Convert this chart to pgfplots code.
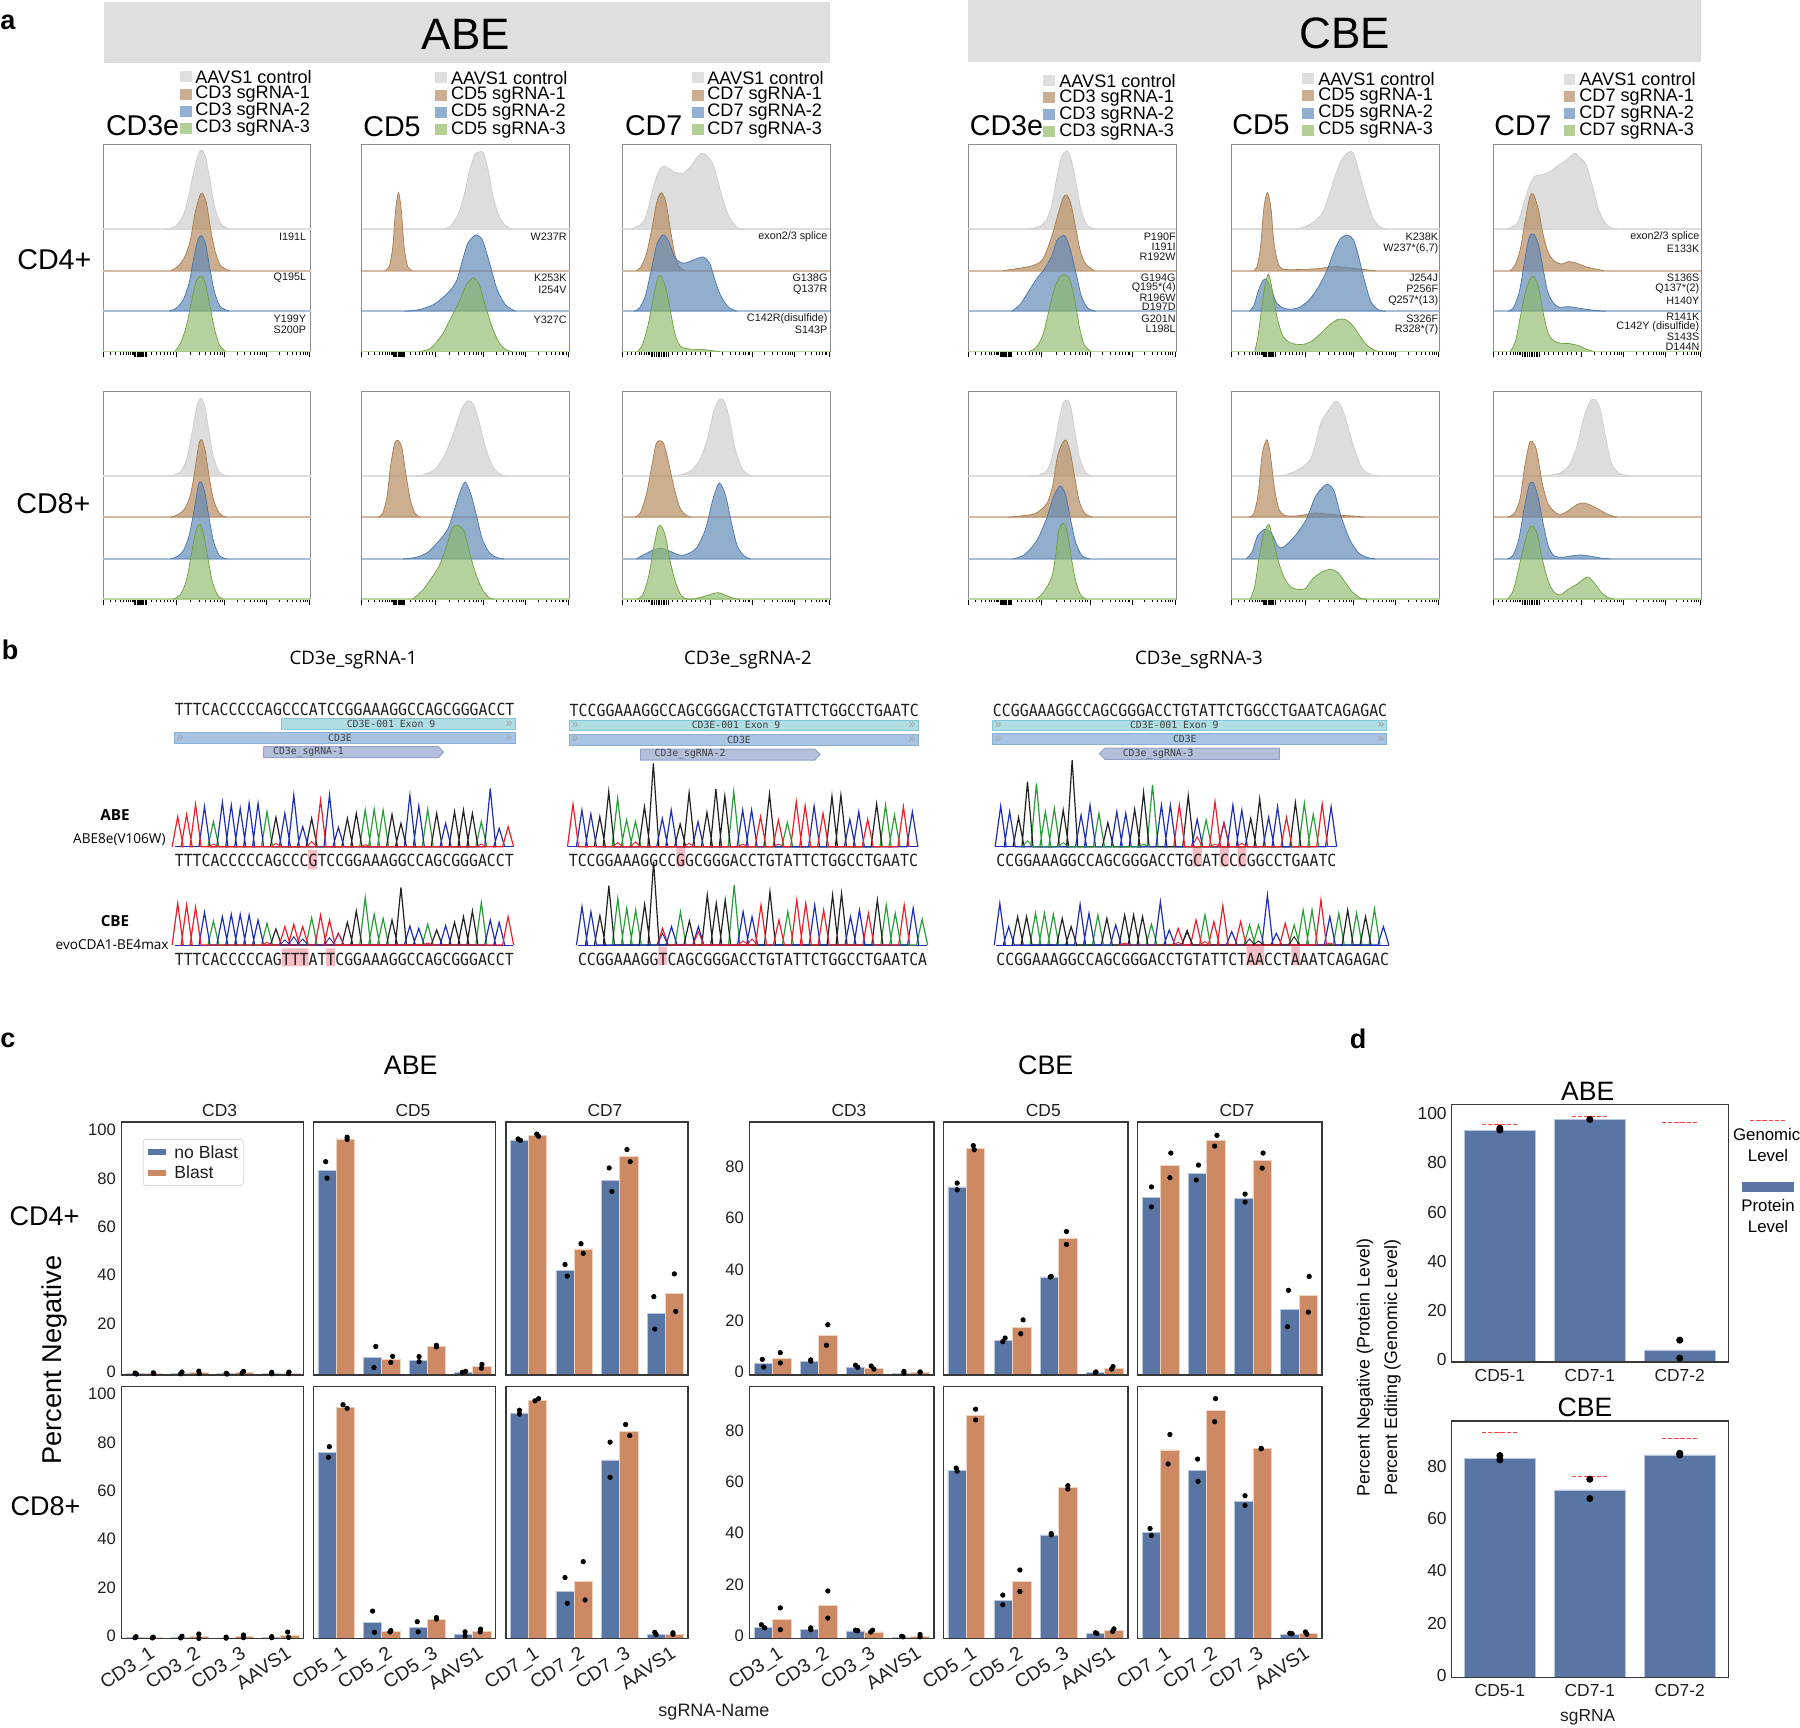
\documentclass[border=0pt]{standalone}
\usepackage{fontspec}
\setmainfont{Liberation Sans}
\newfontfamily\mono{DejaVu Sans Mono}
\newfontfamily\ofont{Open Sans}
\usepackage{graphicx}
\usepackage{pgfplots}
\pgfplotsset{compat=1.18}
\definecolor{hdr}{HTML}{E0DEDF}
\definecolor{cb}{HTML}{5975A4}
\definecolor{cbl}{HTML}{B9C5DB}
\definecolor{co}{HTML}{CC8963}
\definecolor{col}{HTML}{EFD3C2}
\definecolor{fg}{HTML}{D8D9D8}
\definecolor{lg}{HTML}{CDCDCD}
\definecolor{fbr}{HTML}{B88F66}
\definecolor{lbr}{HTML}{A97C50}
\definecolor{fbl}{HTML}{5F87B5}
\definecolor{lbl}{HTML}{4A75A8}
\definecolor{fgr}{HTML}{8CB86A}
\definecolor{lgr}{HTML}{6FA040}
\definecolor{bsg}{HTML}{DDDDDD}
\definecolor{bsb}{HTML}{D4BAA2}
\definecolor{bsl}{HTML}{A9BFD9}
\definecolor{bsn}{HTML}{BCD6A0}
\definecolor{swg}{HTML}{DFDFDF}
\definecolor{swb}{HTML}{CBAE92}
\definecolor{swl}{HTML}{93AFCF}
\definecolor{swn}{HTML}{B3CF96}
\definecolor{trA}{HTML}{2A9D3A}
\definecolor{trC}{HTML}{1F2FB0}
\definecolor{trG}{HTML}{222222}
\definecolor{trT}{HTML}{E8202A}
\definecolor{pink}{HTML}{F4BCC3}
\definecolor{fex}{HTML}{AEDDE4}
\definecolor{bex}{HTML}{86C8D2}
\definecolor{fcd}{HTML}{A7C5E3}
\definecolor{bcd}{HTML}{8CB0D4}
\definecolor{far}{HTML}{B4BFDC}
\definecolor{bar2}{HTML}{97A3C6}
\pgfplotsset{
 flowbase/.style={scale only axis,anchor=north west,width=103.9pt,height=103.65pt,
  xmin=0,xmax=362,ymin=0,ymax=622,ytick=\empty,xticklabels={},
  axis line style={draw=black!45,line width=.5pt},
  tick align=outside,xtick pos=bottom,major tick length=2.6pt,minor tick length=1.5pt,
  tick style={draw=black,line width=.35pt},clip=true},
 flowA/.style={flowbase,
  xtick={0,128,212,285,360,55,57,59,61,63,65,67,69,71,73,75},
  minor xtick={12,22,30,36,41,45,48,51,53,85,93,100,106,112,118,123,153,168,178,187,194,199,204,208,234,247,256,263,269,274,278,281,307,321,330,337,344,349,352,356}},
 flowB/.style={flowbase,
  xtick={0,153,226,300,360,50,53,56,59,62,65,68,71,74,77,80},
  minor xtick={8,16,23,29,34,38,42,45,47,88,96,104,112,120,128,136,144,175,188,197,204,210,215,219,222,248,261,270,278,284,289,293,296,318,330,338,344,349,353,356}},
 cbase/.style={scale only axis,anchor=north west,xmin=-.5,xmax=3.5,ymin=0,axis on top,
  axis line style={draw=black!78,line width=.75pt},
  major tick length=0pt,minor tick length=0pt,xtick pos=bottom,ytick pos=left,
  /pgf/number format/assume math mode=true,
  tick label style={font=\fontsize{8.3}{9}\selectfont,text=black!88},
  yticklabel style={yshift=1.5pt,xshift=.8pt},
  xticklabel style={font=\fontsize{9.6}{10}\selectfont,rotate=33,anchor=north east,inner sep=0pt,xshift=0pt,yshift=-4pt},
  clip=false},
 dbase/.style={scale only axis,anchor=north west,width=138.5pt,xmin=-.54,xmax=2.54,ymin=0,axis on top,
  axis line style={draw=black!78,line width=.75pt},
  major tick length=0pt,minor tick length=0pt,xtick pos=bottom,ytick pos=left,
  /pgf/number format/assume math mode=true,
  xtick={0,1,2},xticklabels={CD5-1,CD7-1,CD7-2},
  tick label style={font=\fontsize{8.7}{9}\selectfont,text=black!88},
  yticklabel style={yshift=1pt,xshift=1.2pt},clip=false},
}
\tikzset{
 f/.style={font=\fontsize{#1}{#1}\selectfont,inner sep=0pt},
 o/.style={font=\ofont\fontsize{#1}{#1}\selectfont,inner sep=0pt},
 mu/.style={font=\fontsize{5.4}{5.4}\selectfont,inner sep=0pt,anchor=east,text=black!90},
 m/.style={font=\mono\fontsize{4.9}{4.9}\selectfont,inner sep=0pt,text=black!75},
}
\newcommand\fc[6]{% fill, line, base, opacity, coords, baseline colour
 \addplot[draw=#6,line width=1pt,forget plot] coordinates {(0,#3)(362,#3)};
 \addplot[smooth,tension=.45,fill=#1,fill opacity=#4,draw=#2,line width=.35pt,
   y filter/.code={\pgfmathparse{##1+#3}\pgfmathresult}] coordinates {#5};}
\newcommand\flow[7]{%
 \begin{axis}[#3,at={(#1*0.5pt,-#2*0.5pt)}]
 \fc{fg}{lg}{\bG}{.9}{#4}{bsg}
 \fc{fbr}{lbr}{\bB}{.72}{#5}{bsb}
 \fc{fbl}{lbl}{\bL}{.68}{#6}{bsl}
 \fc{fgr}{lgr}{0}{.65}{#7}{bsn}
 \end{axis}}
\newcommand\cpanel[9]{%
 \begin{axis}[cbase,at={(#1*0.5pt,-#2*0.5pt)},width=#3,height=#4,ymax=#5,#6]
 \addplot[ybar,bar width=.4,bar shift=-.2,fill=cb,draw=cbl,line width=.35pt] coordinates {#7};
 \addplot[ybar,bar width=.4,bar shift=.2,fill=co,draw=col,line width=.35pt] coordinates {#8};
 \addplot[only marks,mark=*,mark size=1.1pt,black] coordinates {#9};
 \end{axis}}
\newcommand\chrom[4]{%
 \gdef\accA{}\gdef\accC{}\gdef\accG{}\gdef\accT{}%
 \foreach \L/\h [count=\i] in {#4}{%
  \pgfmathsetmacro\xc{#1+(\i-1)*#2}%
  \pgfmathsetmacro\xa{\xc-#2*.62}%
  \pgfmathsetmacro\xb{\xc+#2*.62}%
  \pgfmathsetmacro\yy{#3-\h/3}%
  \expandafter\xdef\csname acc\L\endcsname{\csname acc\L\endcsname (\xa,#3)(\xc,\yy)(\xb,#3)}}%
 \edef\tmp{\noexpand\addplot[trA,line width=.6pt] coordinates {\accA};}\tmp
 \edef\tmp{\noexpand\addplot[trG,line width=.6pt] coordinates {\accG};}\tmp
 \edef\tmp{\noexpand\addplot[trC,line width=.6pt] coordinates {\accC};}\tmp
 \edef\tmp{\noexpand\addplot[trT,line width=.6pt] coordinates {\accT};}\tmp
}
\newcommand\extra[5]{% x1,pitch,base,color,list i/h
 \gdef\accX{}%
 \foreach \k/\h in {#5}{%
  \pgfmathsetmacro\xc{#1+(\k-1)*#2}%
  \pgfmathsetmacro\xa{\xc-#2*.6}%
  \pgfmathsetmacro\xb{\xc+#2*.6}%
  \pgfmathsetmacro\yy{#3-\h/3}%
  \xdef\accX{\accX (\xa,#3)(\xc,\yy)(\xb,#3)}}%
 \edef\tmp{\noexpand\addplot[#4,line width=.45pt] coordinates {\accX};}\tmp
}
\newcommand\rct[5]{\addplot[fill=#1,draw=none] coordinates {(#2,#3)(#4,#3)(#4,#5)(#2,#5)(#2,#3)};}
\newcommand\feat[6]{\addplot[fill=#1,draw=#2,line width=.5pt] coordinates {(#3,#4)(#5,#4)(#5,#6)(#3,#6)(#3,#4)};}
\newcommand\leg[8]{%
 \fill[swg] (#1,#3-5.5) rectangle ++(11.5,11);
 \fill[swb] (#1,#4-5.5) rectangle ++(11.5,11);
 \fill[swl] (#1,#5-5.5) rectangle ++(11.5,11);
 \fill[swn] (#1,#6-5.5) rectangle ++(11.5,11);
 \node[f=9.05,anchor=west] at (#2,#3) {AAVS1 control};
 \node[f=9.05,anchor=west] at (#2,#4) {#7 sgRNA-1};
 \node[f=9.05,anchor=west] at (#2,#5) {#7 sgRNA-2};
 \node[f=9.05,anchor=west] at (#2,#6) {#7 sgRNA-3};}
\newcommand\sq[5]{\node[inner sep=0pt,anchor=west,text=black!88] at (#1,#3) {\resizebox{#4}{6.2pt}{\mono #5}};}
\begin{document}
\begin{tikzpicture}
\path[use as bounding box] (0pt,0pt) rectangle (900pt,-864pt);
\begin{scope}[x=.5pt,y=-.5pt]
\fill[hdr] (104,2) rectangle (830,63);
\fill[hdr] (968,0) rectangle (1701,62);
\end{scope}
% ===== panel a, CD4+
\def\bG{367}\def\bB{243}\def\bL{121}
\flow{103}{144.3}{flowA}
 {(110,0)(125,8)(138,35)(148,90)(157,165)(166,225)(172,238)(179,215)(186,150)(195,65)(205,18)(220,0)}
 {(118,0)(130,12)(142,40)(152,90)(160,170)(168,222)(173,232)(180,205)(187,130)(195,60)(205,15)(220,0)}
 {(115,0)(128,10)(140,35)(150,85)(158,160)(166,218)(172,226)(179,200)(186,130)(194,60)(204,15)(220,0)}
 {(125,0)(135,25)(145,75)(153,140)(162,210)(171,227)(178,205)(186,140)(194,70)(203,20)(214,0)}
\flow{361.7}{144.3}{flowA}
 {(140,0)(155,10)(168,45)(178,100)(187,170)(197,225)(205,232)(212,230)(220,180)(228,105)(238,45)(250,12)(262,0)}
 {(40,0)(48,12)(54,70)(59,180)(64,234)(69,180)(74,70)(80,12)(88,0)}
 {(75,0)(100,5)(125,20)(150,55)(165,90)(175,150)(185,205)(195,225)(200,229)(210,215)(222,150)(235,70)(250,20)(268,0)}
 {(100,0)(120,10)(140,50)(155,100)(170,150)(182,200)(190,215)(195,222)(205,200)(215,140)(228,70)(240,25)(252,5)(262,0)}
\flow{622.3}{144.3}{flowB}
 {(15,0)(30,12)(41,38)(56,138)(66,183)(76,188)(90,172)(106,168)(120,190)(130,215)(138,228)(148,220)(158,195)(166,148)(176,85)(186,38)(201,3)(210,0)}
 {(24,0)(32,10)(42,50)(52,130)(60,205)(68,234)(76,205)(84,120)(92,45)(100,10)(110,0)}
 {(20,0)(30,10)(40,45)(50,120)(60,200)(68,225)(73,229)(82,205)(92,160)(106,144)(118,150)(130,158)(141,163)(152,145)(162,90)(172,45)(185,12)(200,0)}
 {(26,0)(35,20)(45,80)(55,170)(62,222)(67,227)(76,190)(85,110)(93,45)(102,15)(115,8)(135,7)(155,3)(170,0)}
\flow{968.3}{144.3}{flowA}
 {(100,0)(120,6)(135,25)(145,70)(153,145)(162,215)(172,235)(180,205)(188,135)(197,55)(207,12)(222,0)}
 {(60,0)(85,6)(110,14)(128,30)(140,75)(150,130)(158,180)(165,218)(171,227)(178,205)(187,130)(195,60)(205,18)(220,0)}
 {(75,0)(90,20)(105,60)(120,100)(132,125)(145,165)(155,215)(163,225)(168,227)(177,190)(187,120)(197,45)(208,10)(222,0)}
 {(105,0)(118,12)(130,50)(140,120)(150,190)(160,225)(169,230)(177,215)(186,150)(194,70)(202,20)(214,0)}
\flow{1231.8}{144.3}{flowA}
 {(110,0)(128,8)(145,25)(158,50)(168,95)(178,150)(190,205)(203,232)(212,228)(222,170)(235,90)(247,30)(258,8)(268,0)}
 {(38,0)(44,12)(50,70)(56,190)(62,234)(68,190)(73,90)(80,25)(88,5)(110,3)(150,6)(175,12)(200,10)(225,4)(250,0)}
 {(30,0)(38,15)(46,60)(54,92)(60,96)(68,70)(78,25)(90,10)(102,6)(118,12)(135,35)(150,70)(165,120)(178,180)(190,220)(202,228)(212,215)(220,170)(230,100)(242,30)(255,5)(268,0)}
 {(40,0)(46,50)(52,130)(58,200)(64,232)(70,190)(78,110)(88,50)(100,28)(112,22)(125,22)(140,32)(155,55)(170,80)(185,97)(198,96)(210,80)(222,50)(235,20)(250,3)(262,0)}
\flow{1493.6}{144.3}{flowB}
 {(22,0)(41,18)(51,68)(62,130)(71,158)(86,165)(100,175)(111,190)(125,205)(141,228)(150,215)(161,195)(172,130)(181,70)(191,28)(201,8)(215,0)}
 {(28,0)(36,12)(46,60)(55,150)(63,220)(69,230)(78,185)(86,110)(95,55)(105,30)(118,20)(131,27)(145,22)(160,12)(175,6)(192,0)}
 {(25,0)(35,12)(45,60)(53,140)(62,222)(70,231)(78,200)(86,130)(94,60)(104,25)(115,12)(130,14)(150,9)(170,4)(195,0)}
 {(29,0)(38,30)(46,100)(55,175)(64,220)(70,225)(78,195)(86,120)(95,55)(105,32)(118,25)(132,24)(148,18)(160,8)(175,0)}
% ===== panel a, CD8+
\def\bG{369}\def\bB{246}\def\bL{121}
\flow{103}{392}{flowA}
 {(114,0)(128,6)(138,20)(147,60)(155,130)(164,215)(171,234)(178,205)(185,130)(193,55)(203,12)(218,0)}
 {(118,0)(130,8)(142,25)(152,65)(160,140)(167,220)(172,233)(178,200)(185,120)(193,50)(203,12)(215,0)}
 {(118,0)(130,8)(140,25)(150,70)(158,140)(166,220)(171,231)(178,195)(185,120)(193,50)(203,10)(216,0)}
 {(122,0)(135,15)(145,55)(153,125)(161,200)(169,225)(176,190)(183,120)(191,50)(200,12)(210,0)}
\flow{361.7}{392}{flowA}
 {(95,0)(110,6)(128,22)(140,50)(150,85)(162,140)(175,205)(185,227)(195,215)(205,160)(215,90)(228,30)(240,8)(252,0)}
 {(28,0)(36,10)(44,60)(50,150)(57,220)(63,231)(70,210)(77,130)(85,50)(93,12)(102,0)}
 {(72,0)(95,5)(115,20)(135,55)(150,90)(160,140)(170,195)(180,231)(190,195)(200,130)(210,60)(222,20)(235,5)(248,0)}
 {(88,0)(105,25)(120,60)(135,100)(148,160)(158,215)(167,222)(178,205)(188,140)(198,80)(210,30)(222,5)(230,0)}
\flow{622.3}{392}{flowB}
 {(88,0)(105,6)(120,18)(135,50)(148,110)(160,200)(170,232)(178,225)(187,170)(197,80)(210,20)(225,0)}
 {(22,0)(32,15)(42,70)(50,140)(58,215)(64,230)(72,222)(80,170)(90,90)(100,30)(110,8)(120,0)}
 {(24,0)(40,15)(55,28)(68,32)(82,24)(101,11)(115,16)(130,35)(145,90)(158,180)(169,228)(180,190)(190,110)(200,40)(212,10)(224,0)}
 {(26,0)(36,15)(46,70)(54,150)(62,215)(68,220)(75,190)(84,110)(93,50)(103,10)(115,0)(128,2)(145,10)(166,20)(180,12)(195,2)(205,0)}
\flow{968.3}{392}{flowA}
 {(105,0)(125,5)(138,20)(147,65)(155,140)(164,215)(172,229)(179,205)(186,130)(194,55)(205,10)(218,0)}
 {(70,0)(95,5)(115,10)(128,25)(138,45)(147,95)(155,180)(163,220)(170,232)(177,200)(185,125)(193,50)(203,12)(216,0)}
 {(78,0)(95,10)(108,30)(121,60)(136,120)(148,185)(157,215)(162,217)(170,190)(178,120)(187,50)(198,10)(212,0)}
 {(118,0)(128,15)(138,40)(146,70)(152,130)(158,210)(166,228)(172,205)(179,130)(187,55)(196,12)(206,0)}
\flow{1231.8}{392}{flowA}
 {(78,0)(95,5)(110,15)(125,30)(138,55)(146,100)(155,160)(165,190)(175,215)(182,226)(192,205)(202,150)(212,90)(225,30)(238,8)(255,0)}
 {(30,0)(38,10)(46,70)(53,190)(61,233)(67,190)(74,90)(82,25)(92,6)(110,4)(128,8)(145,13)(165,10)(190,6)(220,3)(230,0)}
 {(25,0)(35,20)(45,70)(58,89)(70,75)(80,38)(88,34)(100,50)(115,80)(130,120)(145,185)(158,215)(167,224)(178,205)(190,130)(205,60)(220,20)(235,5)(250,0)}
 {(32,0)(40,40)(47,120)(54,185)(60,215)(65,224)(72,180)(80,120)(90,70)(102,38)(115,30)(128,32)(140,60)(155,80)(172,90)(185,80)(198,50)(210,22)(225,3)(235,0)}
\flow{1493.6}{392}{flowB}
 {(82,0)(100,4)(118,12)(132,35)(145,90)(157,175)(168,225)(176,231)(185,205)(195,120)(205,40)(218,10)(238,0)}
 {(24,0)(36,12)(46,55)(54,150)(62,220)(67,228)(75,200)(85,100)(95,40)(108,14)(118,9)(132,22)(145,38)(156,43)(170,36)(185,22)(200,8)(215,0)}
 {(24,0)(34,12)(44,60)(53,150)(62,222)(69,229)(77,190)(86,110)(95,40)(105,10)(118,5)(135,9)(152,12)(170,8)(190,2)(205,0)}
 {(24,0)(34,25)(44,95)(54,170)(62,212)(68,220)(76,195)(85,120)(95,55)(105,22)(116,13)(130,30)(145,45)(163,67)(175,50)(188,20)(200,5)(210,0)}
% ===== panel b overlay
\begin{axis}[at={(0pt,0pt)},anchor=north west,scale only axis,width=900pt,height=864pt,hide axis,
 xmin=0,xmax=1800,ymin=0,ymax=1728,y dir=reverse,clip=false]
\rct{pink}{308}{850}{317.3}{869.3}
\rct{pink}{281.5}{948.3}{308.5}{966.3}
\rct{pink}{326}{948.3}{335}{966.3}
\rct{pink}{676.3}{846.7}{685}{866.7}
\rct{pink}{658.4}{946.7}{667}{965}
\rct{pink}{1192.7}{847}{1201.8}{866.7}
\rct{pink}{1219.7}{847}{1228.9}{866.7}
\rct{pink}{1237.6}{847}{1246.4}{866.7}
\rct{pink}{1246.4}{946}{1264.3}{965}
\rct{pink}{1291.4}{946}{1300}{965}
\feat{fex}{bex}{281.5}{718.3}{515}{729.3}
\feat{fcd}{bcd}{174.5}{732.3}{515}{743.7}
\addplot[fill=far,draw=bar2,line width=.5pt] coordinates {(263.5,746.7)(438.5,746.7)(443.5,752.2)(438.5,757.7)(263.5,757.7)(263.5,746.7)};
\feat{fex}{bex}{569}{720}{918.5}{730.7}
\feat{fcd}{bcd}{569}{734}{918.5}{745}
\addplot[fill=far,draw=bar2,line width=.5pt] coordinates {(640.5,749)(814.8,749)(820,754.5)(814.8,760)(640.5,760)(640.5,749)};
\feat{fex}{bex}{992.5}{720}{1386.8}{730.7}
\feat{fcd}{bcd}{992.5}{733.3}{1386.8}{744.7}
\addplot[fill=far,draw=bar2,line width=.5pt] coordinates {(1105,748)(1279.4,748)(1279.4,759.3)(1105,759.3)(1099.4,753.6)(1105,748)};
% chromatograms
\addplot[trC,line width=.5pt] coordinates {(174.5,846.7)(513,846.7)};
\chrom{177.7}{8.93}{846.7}{T/90,T/97,T/127,C/120,A/75,C/133,C/125,C/115,C/130,C/130,A/105,G/88,C/100,C/155,C/60,G/85,T/140,C/155,C/58,G/85,G/100,A/110,A/112,A/110,G/97,G/70,C/155,C/122,A/112,G/100,C/70,G/105,G/110,G/100,A/75,C/175,C/55,T/60}
\extra{177.7}{8.93}{846.7}{trT}{5/8,12/10,16/15,22/6,35/8}
\addplot[trC,line width=.5pt] coordinates {(174.5,945)(513,945)};
\chrom{177.7}{8.93}{945}{T/125,T/120,T/113,C/98,A/72,C/85,C/92,C/92,C/90,C/75,A/65,G/48,T/55,T/62,T/55,A/82,T/90,T/75,C/35,G/68,G/102,A/142,A/92,A/80,G/75,G/173,C/57,C/50,A/62,G/45,C/58,G/68,G/85,G/102,A/127,C/75,C/68,T/85}
\extra{177.7}{8.93}{945}{trC}{13/15,14/25,15/18,18/22}
\extra{177.7}{8.93}{945}{trT}{19/35,11/8,29/6}
\addplot[trC,line width=.5pt] coordinates {(568.4,846.7)(917.6,846.7)};
\chrom{573}{8.93}{846.7}{T/128,C/110,C/98,G/90,G/165,A/145,A/80,A/75,G/120,G/250,C/85,C/110,G/68,G/162,C/75,G/103,G/173,G/152,A/165,C/110,C/110,T/90,G/158,T/80,A/72,T/135,T/123,C/122,T/100,G/152,G/155,C/82,C/105,T/82,G/128,A/125,A/95,T/120,C/105}
\extra{573}{8.93}{846.7}{trT}{6/12,8/14,14/10,20/8,24/8}
\addplot[trC,line width=.5pt] coordinates {(577.6,945)(926.8,945)};
\chrom{582}{8.95}{945}{C/115,C/100,G/88,G/178,A/140,A/110,A/105,G/122,G/250,T/50,C/55,A/100,G/72,C/55,G/150,G/125,G/135,A/180,C/100,C/85,T/120,G/160,T/75,A/100,T/135,T/125,C/120,T/105,G/150,G/155,C/85,C/105,T/95,G/135,A/120,A/95,T/120,C/110,A/78}
\extra{582}{8.95}{945}{trC}{10/35}
\extra{582}{8.95}{945}{trT}{14/40,19/12,20/18}
\addplot[trC,line width=.5pt] coordinates {(996,846.7)(1336,846.7)};
\chrom{1000.7}{8.93}{846.7}{C/122,C/105,G/88,G/195,A/190,A/105,A/115,G/110,G/260,C/95,C/125,A/100,G/72,C/105,C/100,G/112,G/163,A/185,C/125,C/125,T/125,G/153,C/82,A/80,T/135,C/72,C/125,C/110,G/85,G/143,C/88,C/120,T/88,G/132,A/130,A/97,T/128,C/120}
\extra{1000.7}{8.93}{846.7}{trT}{23/30,26/73,25/8,28/10}
\extra{1000.7}{8.93}{846.7}{trA}{4/18,8/12,17/8}
\addplot[trC,line width=.5pt] coordinates {(996,945)(1388.7,945)};
\chrom{999.8}{8.92}{945}{C/125,C/55,G/85,G/85,A/95,A/95,A/92,G/80,G/55,C/122,C/95,A/90,G/80,C/60,G/90,G/90,G/85,A/62,C/130,C/45,T/50,G/40,T/75,A/90,T/70,T/118,C/40,T/70,A/60,A/60,C/150,C/35,T/65,A/60,A/105,A/105,T/135,C/85,A/95,G/105,A/95,G/85,A/108,C/55}
\extra{999.8}{8.92}{945}{trG}{22/45,29/18,30/12,34/25}
\extra{999.8}{8.92}{945}{trT}{21/8,24/10,15/6,38/6}
\end{axis}
% ===== panel c
% ABE CD4
\cpanel{121.4}{1122}{91.1pt}{126.5pt}{104.6}{xtick={0,1,2,3},xticklabels={},ytick={0,20,40,60,80,100}}
 {(0,.55)(1,.7)(2,.5)(3,.7)}{(0,.5)(1,1.1)(2,1)(3,.8)}
 {(-.2,.8)(-.17,.4)(.2,.9)(.21,.6)(.8,.5)(.83,1.2)(1.2,1.6)(1.21,.6)(1.8,.7)(1.82,.4)(2.18,1.5)(2.15,.8)(2.8,1.1)(2.8,.5)(3.18,1.2)(3.17,.6)}
\cpanel{313.4}{1122}{91.1pt}{126.5pt}{104.6}{xtick={0,1,2,3},xticklabels={},ytick=\empty}
 {(0,84.5)(1,7.2)(2,6.1)(3,1.3)}{(0,97.6)(1,6.3)(2,11.8)(3,3.5)}
 {(-.23,88.2)(-.2,81.4)(.24,98.3)(.24,97.4)(.87,11.8)(.83,3.1)(1.24,7.7)(1.2,5.2)(1.82,7.6)(1.82,5.5)(2.2,12.3)(2.2,11.6)(2.84,1.5)(2.77,1.1)(3.2,4.4)(3.19,2.8)}
\cpanel{505.8}{1122}{91.1pt}{126.5pt}{104.6}{xtick={0,1,2,3},xticklabels={},ytick=\empty}
 {(0,97.2)(1,43.1)(2,80.5)(3,25.4)}{(0,99)(1,52.1)(2,90.4)(3,33.9)}
 {(-.23,97.6)(-.18,97)(.18,99.6)(.22,98.7)(.8,45.7)(.85,40.9)(1.15,54.3)(1.2,50.3)(1.77,85.6)(1.83,75.9)(2.16,93.2)(2.23,88.2)(2.75,32.4)(2.77,19)(3.2,41.8)(3.23,26.3)}
% ABE CD8
\cpanel{121.4}{1386.6}{91.1pt}{126pt}{104.4}{xtick={0,1,2,3},xticklabels={CD3\_1,CD3\_2,CD3\_3,AAVS1},ytick={0,20,40,60,80,100}}
 {(0,.5)(1,.4)(2,.3)(3,.6)}{(0,.4)(1,.8)(2,.9)(3,1.2)}
 {(-.18,.8)(-.2,.4)(.2,.6)(.18,.3)(.83,1)(.8,.3)(1.2,1.9)(1.2,.1)(1.8,.6)(1.8,.2)(2.18,1.5)(2.18,.4)(2.8,.8)(2.8,.4)(3.15,2.7)(3.17,.5)}
\cpanel{313.4}{1386.6}{91.1pt}{126pt}{104.4}{xtick={0,1,2,3},xticklabels={CD5\_1,CD5\_2,CD5\_3,AAVS1},ytick=\empty}
 {(0,77.1)(1,6.6)(2,4.6)(3,1.7)}{(0,95.8)(1,3)(2,7.9)(3,3)}
 {(-.15,79.5)(-.17,75.1)(.15,96.9)(.24,95.4)(.8,11.4)(.84,2.6)(1.78,7)(1.8,2.8)(1.2,3.3)(1.18,2.8)(2.2,8.7)(2.2,8.1)(2.83,2.8)(2.83,1.1)(3.17,3.9)(3.16,2.8)}
\cpanel{505.8}{1386.6}{91.1pt}{126pt}{104.4}{xtick={0,1,2,3},xticklabels={CD7\_1,CD7\_2,CD7\_3,AAVS1},ytick=\empty}
 {(0,93.5)(1,19.7)(2,74)(3,1.8)}{(0,98.7)(1,23.6)(2,86)(3,1.7)}
 {(-.2,94.6)(-.2,93)(.14,98.5)(.22,99.4)(.8,25.3)(.85,14.6)(1.2,31.9)(1.24,16)(1.79,81.4)(1.79,66.8)(2.13,88.7)(2.22,84.1)(2.77,2.6)(2.8,1.7)(3.17,2.4)(3.17,1.8)}
% CBE CD4
\cpanel{749.4}{1122}{92.25pt}{126.5pt}{98.6}{xtick={0,1,2,3},xticklabels={},ytick={0,20,40,60,80}}
 {(0,4.5)(1,5.4)(2,3.1)(3,.7)}{(0,6.4)(1,15.5)(2,2.6)(3,1)}
 {(-.22,6.1)(-.19,3.1)(.17,8.7)(.17,4.7)(.83,5.9)(.83,5.4)(1.2,19.6)(1.17,11.6)(1.8,3.8)(1.85,3)(2.14,3.5)(2.2,2.3)(2.85,1.4)(2.85,.7)(3.2,1.2)(3.2,1)}
\cpanel{943.3}{1122}{92.25pt}{126.5pt}{98.6}{xtick={0,1,2,3},xticklabels={},ytick=\empty}
 {(0,73.3)(1,13.5)(2,38.2)(3,1)}{(0,88.4)(1,18.6)(2,53.1)(3,2.6)}
 {(-.2,74.8)(-.2,72.2)(.15,89.4)(.17,87.8)(.84,14.4)(.79,13)(1.23,21.5)(1.18,16.1)(1.84,38.4)(1.82,38.2)(2.17,55.9)(2.17,50.9)(2.81,1.2)(2.8,1)(3.18,3.3)(3.15,2.3)}
\cpanel{1137.6}{1122}{92.25pt}{126.5pt}{98.6}{xtick={0,1,2,3},xticklabels={},ytick=\empty}
 {(0,69.1)(1,78.6)(2,68.8)(3,25.5)}{(0,81.6)(1,91.3)(2,83.5)(3,31.1)}
 {(-.2,73.3)(-.2,65.5)(.22,86.5)(.2,76.9)(.82,81.8)(.77,76)(1.22,93.4)(1.17,89.2)(1.83,70.5)(1.83,67.4)(2.22,86.5)(2.2,80.6)(2.77,33)(2.75,18.8)(3.22,38.4)(3.2,24.5)}
% CBE CD8
\cpanel{749.4}{1386.6}{92.25pt}{126pt}{98.4}{xtick={0,1,2,3},xticklabels={CD3\_1,CD3\_2,CD3\_3,AAVS1},ytick={0,20,40,60,80}}
 {(0,4.5)(1,3.5)(2,3)(3,.5)}{(0,7.5)(1,13)(2,2.6)(3,.9)}
 {(-.24,5.4)(-.17,4.2)(.17,12)(.17,3.5)(.83,4.2)(.83,3.5)(1.2,18.6)(1.2,8)(1.8,3.3)(1.85,3.1)(2.17,3.3)(2.13,2.6)(2.8,.9)(2.83,.7)(3.2,1.6)(3.2,.7)}
\cpanel{943.3}{1386.6}{92.25pt}{126pt}{98.4}{xtick={0,1,2,3},xticklabels={CD5\_1,CD5\_2,CD5\_3,AAVS1},ytick=\empty}
 {(0,65.7)(1,15)(2,40.5)(3,1.9)}{(0,87.3)(1,22.4)(2,59)(3,3.1)}
 {(-.22,66.6)(-.2,65.4)(.2,89.6)(.2,85.4)(.79,17)(.79,13.2)(1.16,26.8)(1.16,18.4)(1.84,41)(1.84,40.5)(2.2,59.7)(2.2,58.4)(2.8,2.3)(2.83,2)(3.2,3.8)(3.17,2.8)}
\cpanel{1137.6}{1386.6}{92.25pt}{126pt}{98.4}{xtick={0,1,2,3},xticklabels={CD7\_1,CD7\_2,CD7\_3,AAVS1},ytick=\empty}
 {(0,41.4)(1,65.7)(2,53.7)(3,1.6)}{(0,73.7)(1,89)(2,74.1)(3,1.9)}
 {(-.23,43)(-.2,40.3)(.2,79.7)(.16,68.2)(.8,70.1)(.81,61.4)(1.19,93.7)(1.17,84.7)(1.83,55.8)(1.83,52)(2.18,74.3)(2.18,74.1)(2.8,2.1)(2.85,1.9)(3.14,2.6)(3.17,1.7)}
% ===== panel d
\begin{axis}[dbase,at={(1451.3*0.5pt,-1104.4*0.5pt)},height=128.7pt,ymax=104.6,ytick={0,20,40,60,80,100}]
\addplot[ybar,bar width=.785,fill=cb,draw=cbl,line width=.35pt] coordinates {(0,94.1)(1,98.5)(2,4.8)};
\addplot[only marks,mark=*,mark size=1.55pt,black] coordinates {(0,94.9)(0,94.2)(1,98.5)(2,8.8)(2,1.5)};
\addplot[red!75!white,line width=.45pt,dash pattern=on 2.2pt off .9pt] coordinates {(-.2,96.5)(.2,96.5)};
\addplot[red!75!white,line width=.45pt,dash pattern=on 2.2pt off .9pt] coordinates {(.8,99.6)(1.2,99.6)};
\addplot[red!75!white,line width=.45pt,dash pattern=on 2.2pt off .9pt] coordinates {(1.8,97.4)(2.2,97.4)};
\end{axis}
\begin{axis}[dbase,at={(1451.3*0.5pt,-1420.9*0.5pt)},height=128.2pt,ymax=98.1,ytick={0,20,40,60,80}]
\addplot[ybar,bar width=.785,fill=cb,draw=cbl,line width=.35pt] coordinates {(0,83.8)(1,71.7)(2,85.1)};
\addplot[only marks,mark=*,mark size=1.55pt,black] coordinates {(0,84.8)(0,83.2)(1,75.8)(1,68.4)(2,85.7)(2,85.1)};
\addplot[red!75!white,line width=.45pt,dash pattern=on 2.2pt off .9pt] coordinates {(-.2,93.6)(.2,93.6)};
\addplot[red!75!white,line width=.45pt,dash pattern=on 2.2pt off .9pt] coordinates {(.8,76.7)(1.2,76.7)};
\addplot[red!75!white,line width=.45pt,dash pattern=on 2.2pt off .9pt] coordinates {(1.8,91.4)(2.2,91.4)};
\end{axis}
% ===== all text
\begin{scope}[x=.5pt,y=-.5pt]
\node[f=13.5,font=\bfseries\fontsize{13.5}{13.5}\selectfont] at (8,22) {a};
\node[f=13.5,font=\bfseries\fontsize{13.5}{13.5}\selectfont] at (10,650) {b};
\node[f=13.5,font=\bfseries\fontsize{13.5}{13.5}\selectfont] at (8,1040) {c};
\node[f=13.5,font=\bfseries\fontsize{13.5}{13.5}\selectfont] at (1358,1039) {d};
\node[f=22] at (466,34) {ABE};
\node[f=22] at (1345,33) {CBE};
\leg{180}{195}{77}{94.3}{111.3}{128.3}{CD3}{}
\leg{435}{450.6}{78}{95.3}{112.3}{129.7}{CD5}{}
\leg{692}{707}{78}{95.3}{112.3}{129.7}{CD7}{}
\leg{1043}{1059}{80.7}{98}{115}{132}{CD3}{}
\leg{1302.4}{1318}{78.7}{96}{113.3}{130.3}{CD5}{}
\leg{1563.6}{1579}{79.3}{96.7}{114}{131}{CD7}{}
\node[f=14.3,anchor=west] at (105.6,126) {CD3e};
\node[f=14.3,anchor=west] at (363,127) {CD5};
\node[f=14.3,anchor=west] at (624.6,125.7) {CD7};
\node[f=14.3,anchor=west] at (969.5,126) {CD3e};
\node[f=14.3,anchor=west] at (1232,125) {CD5};
\node[f=14.3,anchor=west] at (1494,126) {CD7};
\node[f=14.3,anchor=west] at (17,260) {CD4+};
\node[f=14.3,anchor=west] at (16,504) {CD8+};
% mutations
\foreach \t/\y in {I191L/237,Q195L/277.7,Y199Y/318.3,S200P/330}{\node[mu] at (306.5,\y) {\t};}
\foreach \t/\y in {W237R/237,K253K/278,I254V/289.7,Y327C/320}{\node[mu] at (567,\y) {\t};}
\foreach \t/\y in {exon2{/}3 splice/237,G138G/278,Q137R/289.7,C142R(disulfide)/319,S143P/330}{\node[mu] at (827.8,\y) {\t};}
\foreach \t/\y in {P190F/237,I191I/247,R192W/257,G194G/278,Q195*(4)/287.7,R196W/297.3,D197D/307,G201N/318.3,L198L/329}{\node[mu] at (1176,\y) {\t};}
\foreach \t/\y in {K238K/237,W237*(6{,}7)/249,J254J/278,P256F/289,Q257*(13)/301,S326F/319,R328*(7)/330}{\node[mu] at (1438.5,\y) {\t};}
\foreach \t/\y in {exon2{/}3 splice/237,E133K/249,S136S/278,Q137*(2)/289,H140Y/301,R141K/317,C142Y (disulfide)/327,S143S/337,D144N/347}{\node[mu] at (1699.7,\y) {\t};}
% panel b text
\node[o=9.3] at (353.5,660) {CD3e\_sgRNA-1};
\node[o=9.3] at (748,660) {CD3e\_sgRNA-2};
\node[o=9.3] at (1199,660) {CD3e\_sgRNA-3};
\node[o=8,font=\ofont\bfseries\fontsize{7.6}{8}\selectfont] at (115,815) {ABE};
\node[o=6.8,anchor=east] at (166,840) {ABE8e(V106W)};
\node[o=8,font=\ofont\bfseries\fontsize{7.6}{8}\selectfont] at (115,921) {CBE};
\node[o=6.8,anchor=east] at (169,945) {evoCDA1-BE4max};
\sq{174.5}{514}{709}{169.75pt}{TTTCACCCCCAGCCCATCCGGAAAGGCCAGCGGGACCT}
\sq{174.5}{513.3}{860.7}{169.4pt}{TTTCACCCCCAGCCCGTCCGGAAAGGCCAGCGGGACCT}
\sq{174.5}{513.3}{959.3}{169.4pt}{TTTCACCCCCAGTTTATTCGGAAAGGCCAGCGGGACCT}
\sq{569.3}{918.5}{710.3}{174.6pt}{TCCGGAAAGGCCAGCGGGACCTGTATTCTGGCCTGAATC}
\sq{568.4}{917.6}{860.7}{174.6pt}{TCCGGAAAGGCCGGCGGGACCTGTATTCTGGCCTGAATC}
\sq{577.6}{926.8}{959.3}{174.6pt}{CCGGAAAGGTCAGCGGGACCTGTATTCTGGCCTGAATCA}
\sq{992.5}{1386.8}{710.3}{197.15pt}{CCGGAAAGGCCAGCGGGACCTGTATTCTGGCCTGAATCAGAGAC}
\sq{996}{1336}{860.7}{170pt}{CCGGAAAGGCCAGCGGGACCTGCATCCCGGCCTGAATC}
\sq{996}{1388.7}{959.3}{196.35pt}{CCGGAAAGGCCAGCGGGACCTGTATTCTAACCTAAATCAGAGAC}
\node[m] at (391,723.8) {CD3E-001 Exon 9};
\node[m] at (340,738) {CD3E};
\node[m] at (308.5,752.2) {CD3e\_sgRNA-1};
\node[m] at (736,725.4) {CD3E-001 Exon 9};
\node[m] at (739,739.5) {CD3E};
\node[m] at (690,754.5) {CD3e\_sgRNA-2};
\node[m] at (1174.3,725.4) {CD3E-001 Exon 9};
\node[m] at (1184.8,739) {CD3E};
\node[m] at (1158.2,753.6) {CD3e\_sgRNA-3};
\foreach \x/\y in {509/723.8,180/738,509/738,575/725.4,912/725.4,575/739.5,912/739.5,998/725.4,1381/725.4,998/739,1381/739}{\node[o=7,text=black!35] at (\x,\y) {»};}
% panel c text
\node[f=13.4] at (410.7,1065.6) {ABE};
\node[f=13.4] at (1045.7,1065.6) {CBE};
\foreach \x/\t in {219.6/CD3,413/CD5,605/CD7,849/CD3,1043.3/CD5,1237/CD7}{\node[f=8.7,text=black!88] at (\x,1110.6) {\t};}
\node[f=13.6,rotate=90] at (54,1360) {Percent Negative};
\node[f=13.5] at (44.6,1216.6) {CD4+};
\node[f=13.5] at (45.5,1506) {CD8+};
\node[f=9,text=black!88] at (714,1712) {sgRNA-Name};
\draw[black!15,fill=white,rounded corners=1pt,line width=.4pt] (143.3,1139.5) rectangle (243.3,1185.4);
\fill[cb] (148,1149.4) rectangle (166,1155.4);
\fill[co] (148,1169.5) rectangle (166,1175.5);
\node[f=8.8,anchor=west,text=black!88] at (174,1152.4) {no Blast};
\node[f=8.8,anchor=west,text=black!88] at (174,1172.5) {Blast};
% panel d text
\node[f=13.3] at (1587.7,1090.9) {ABE};
\node[f=13.3] at (1585,1407) {CBE};
\node[f=8.9,rotate=90] at (1365,1367.6) {Percent Negative (Protein Level)};
\node[f=8.9,rotate=90] at (1392.5,1367.6) {Percent Editing (Genomic Level)};
\node[f=8.7,text=black!88] at (1587.7,1717.5) {sgRNA};
\draw[red!75!white,line width=.45pt,dash pattern=on 2.2pt off .9pt] (1750,1120.7) -- (1786,1120.7);
\node[f=8.4] at (1766.7,1134.7) {Genomic};
\node[f=8.4] at (1768,1155.9) {Level};
\fill[cb] (1742,1181.6) rectangle (1794.3,1192);
\node[f=8.4] at (1768,1205) {Protein};
\node[f=8.4] at (1768,1226.8) {Level};
\end{scope}
\end{tikzpicture}
\end{document}
